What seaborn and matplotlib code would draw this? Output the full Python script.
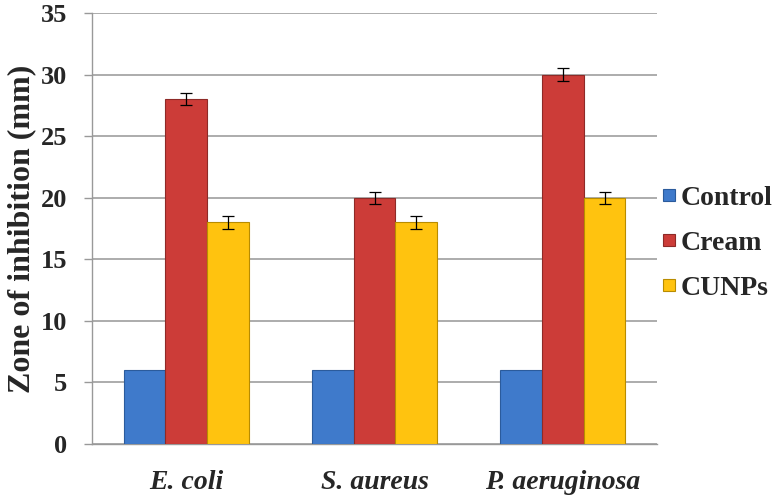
import matplotlib
matplotlib.use("Agg")
import matplotlib.pyplot as plt
import seaborn as sns
import pandas as pd
import numpy as np
from matplotlib.lines import Line2D

categories = ["E. coli", "S. aureus", "P. aeruginosa"]
series = ["Control", "Cream", "CUNPs"]
control = [6, 6, 6]
cream = [28, 20, 30]
cunps = [18, 18, 20]
control_err = [0, 0, 0]
cream_err = [0.5, 0.5, 0.5]
cunps_err = [0.5, 0.5, 0.5]
yticks = [0, 5, 10, 15, 20, 25, 30, 35]

colors = ["#3f7acb", "#cc3c38", "#ffc30f"]
edges = ["#2b5b9c", "#8e2a27", "#b88c00"]

rows = []
for s, vals, errs in zip(series, [control, cream, cunps], [control_err, cream_err, cunps_err]):
    for c, v, e in zip(categories, vals, errs):
        rows.append({"Organism": c, "Sample": s, "Zone": v, "Err": e})
df = pd.DataFrame(rows)

sns.set_style("white")
plt.rcParams["font.family"] = ["Liberation Serif", "DejaVu Serif"]

fig = plt.figure(figsize=(7.74, 4.97), dpi=100)
ax = fig.add_axes([92 / 774, 1 - 444 / 497, (657 - 92) / 774, (444 - 13) / 497])

sns.barplot(data=df, x="Organism", y="Zone", hue="Sample", order=categories,
            hue_order=series, palette=colors, saturation=1, width=0.664,
            errorbar=None, ax=ax, legend=False, zorder=3)

# edge colours and error bars
for i, s in enumerate(series):
    cont = ax.containers[i]
    sub = df[df["Sample"] == s].set_index("Organism").loc[categories]
    xs = []
    for p in cont.patches:
        p.set_edgecolor(edges[i])
        p.set_linewidth(0.8)
        xs.append(p.get_x() + p.get_width() / 2)
    errs = sub["Err"].values
    mask = errs > 0
    if mask.any():
        ax.errorbar(np.array(xs)[mask], sub["Zone"].values[mask], yerr=errs[mask],
                    fmt="none", ecolor="black", elinewidth=0.9, capsize=4,
                    capthick=0.9, zorder=5)

ax.set_ylim(0, 35)
ax.set_yticks(yticks)
ax.set_yticklabels([str(t) for t in yticks], fontsize=19, fontweight="bold")
ax.set_xlim(-0.5, 2.5)
ax.set_xticks(range(len(categories)))
ax.set_xticklabels(categories, fontsize=20, fontweight="bold", fontstyle="italic")
ax.tick_params(axis="x", length=0, pad=19)
ax.set_xticks([0.5, 1.5, 2.5], minor=True)
ax.tick_params(axis="x", which="minor", length=6, color="#999999", width=1)
ax.tick_params(axis="y", length=6, color="#999999", width=1, pad=12, left=True)

ax.yaxis.grid(True, color="#a6a6a6", linewidth=1.3, zorder=0)
ax.set_axisbelow(True)
for sp in ["top", "right"]:
    ax.spines[sp].set_visible(False)
for sp in ["left", "bottom"]:
    ax.spines[sp].set_color("#999999")
    ax.spines[sp].set_linewidth(1)

ax.set_xlabel("")
ax.set_ylabel("Zone of inhibition (mm)", fontsize=23, fontweight="bold", labelpad=3)

handles = [Line2D([0], [0], marker="s", linestyle="none", markersize=9,
                  markerfacecolor=c, markeredgecolor=e, markeredgewidth=0.8)
           for c, e in zip(colors, edges)]
fig.legend(handles, series, loc="center left",
           bbox_to_anchor=(661 / 774, 1 - 243 / 497), frameon=False,
           prop={"size": 20, "weight": "bold"}, handlelength=0.6,
           handletextpad=0.1, labelspacing=0.7, borderpad=0, borderaxespad=0)

fig.savefig("out.png", dpi=100)
